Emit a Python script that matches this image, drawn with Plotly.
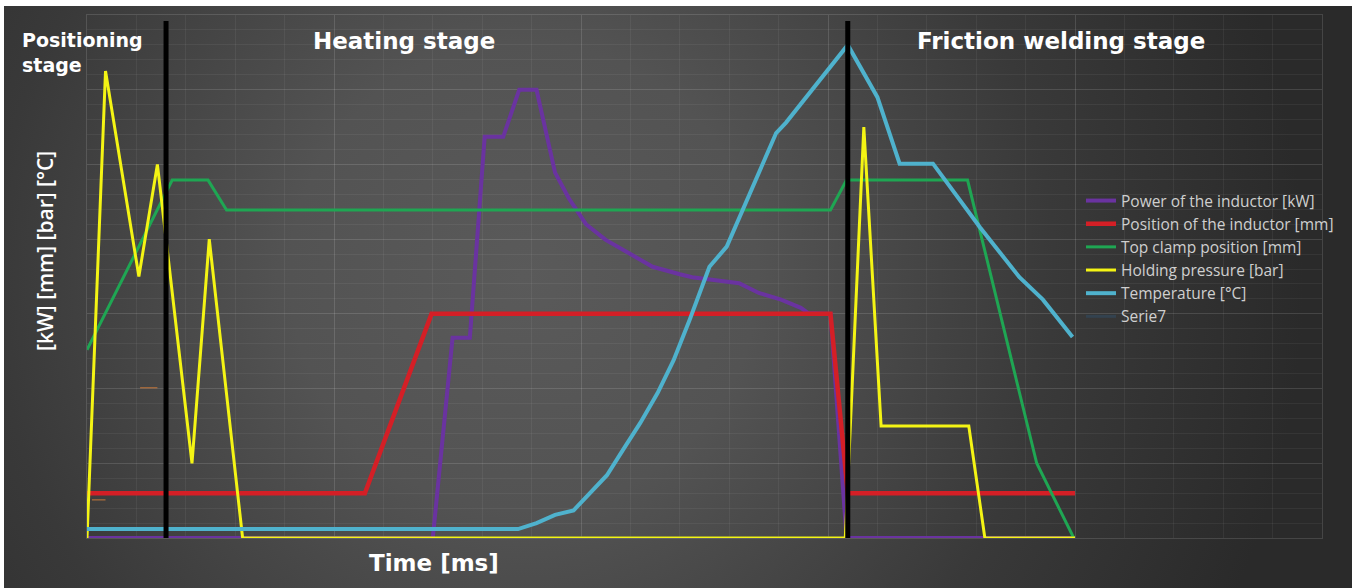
import base64
import plotly.graph_objects as go

# ---- series data (time axis in arbitrary units, values on a shared scale) ----
power_t = [0, 14.0, 14.8, 15.5, 16.1, 16.85, 17.5, 18.2, 18.95, 19.5, 20.2, 21.0, 22.0, 22.9,
           24.0, 24.5, 26.4, 27.2, 28.1, 28.9, 29.2, 30.1, 30.75, 40.0]
power_v = [0, 0, 26.8, 26.8, 53.7, 53.7, 60.0, 60.0, 48.9, 45.5, 42.0, 39.9, 38.0, 36.3,
           35.3, 34.9, 34.1, 32.8, 31.9, 30.8, 30.1, 30.0, 0, 0]

inductor_t = [0, 11.25, 13.95, 30.1, 30.8, 40.0]
inductor_v = [6, 6, 30, 30, 6, 6]

clamp_t = [0, 3.45, 4.9, 5.65, 30.1, 30.75, 35.65, 38.45, 39.95]
clamp_v = [25.2, 47.9, 47.9, 43.9, 43.9, 47.9, 47.9, 10.0, 0]

pressure_t = [0, 0.75, 2.1, 2.85, 4.25, 4.95, 6.3, 30.7, 31.45, 32.15, 35.7, 36.35, 40.0]
pressure_v = [0, 62.5, 35, 50, 10, 40, 0, 0, 55, 15, 15, 0, 0]

temp_t = [0, 17.45, 18.2, 18.95, 19.7, 20.35, 21.05, 21.7, 22.4, 23.1, 23.75, 24.4, 25.2,
          25.9, 27.9, 28.3, 30.8, 32.0, 32.9, 34.25, 36.15, 37.75, 38.7, 39.9]
temp_v = [1.2, 1.2, 2.0, 3.1, 3.7, 5.9, 8.4, 11.8, 15.4, 19.4, 23.8, 29.2, 36.3,
          39.0, 54.2, 55.6, 66.0, 59.0, 50.1, 50.1, 41.6, 34.9, 31.9, 26.9]

serie7_t = [0, 40.0]
serie7_v = [0, 0]

# short orange marker segments near the start
marks_t = [[2.15, 2.85], [0.2, 0.75]]
marks_v = [[20.1, 20.1], [5.1, 5.1]]

# stage boundaries
stage_edges = [3.2, 30.8]
edge_span = [-0.3, 69.2]

series = [
    ("Power of the inductor [kW]", power_t, power_v, "#6a33a0", 4),
    ("Position of the inductor [mm]", inductor_t, inductor_v, "#d41f26", 4.5),
    ("Top clamp position [mm]", clamp_t, clamp_v, "#1fa653", 3),
    ("Holding pressure [bar]", pressure_t, pressure_v, "#f4f414", 3),
    ("Temperature [°C]", temp_t, temp_v, "#4fb2cd", 4),
    ("Serie7", serie7_t, serie7_v, "#33424f", 3),
]

fig = go.Figure()
# Serie7 sits underneath everything along the baseline
draw_order = [5, 0, 1, 2, 3, 4]
for i in draw_order:
    name, t, v, color, w = series[i]
    fig.add_trace(go.Scatter(
        x=t, y=v, name=name, mode="lines",
        line=dict(color=color, width=w),
        legendgroup=f"g{i}", legendrank=i + 1, hoverinfo="skip",
    ))

for t, v in zip(marks_t, marks_v):
    fig.add_trace(go.Scatter(x=t, y=v, mode="lines", showlegend=False,
                             line=dict(color="#c8783a", width=1), hoverinfo="skip"))

for xe in stage_edges:
    fig.add_trace(go.Scatter(x=[xe, xe], y=edge_span, mode="lines", showlegend=False,
                             line=dict(color="#000000", width=5), hoverinfo="skip"))

# radial gradient backdrop for the chart panel
svg = (
    '<svg xmlns="http://www.w3.org/2000/svg" width="1348" height="582" viewBox="0 0 1348 582" '
    'preserveAspectRatio="none">'
    '<defs><radialGradient id="g" gradientUnits="userSpaceOnUse" cx="520" cy="270" r="780">'
    '<stop offset="0" stop-color="#5a5a5a"/>'
    '<stop offset="0.3" stop-color="#535353"/>'
    '<stop offset="0.68" stop-color="#393939"/>'
    '<stop offset="1" stop-color="#2a2a2a"/>'
    '</radialGradient></defs>'
    '<rect width="1348" height="582" fill="url(#g)"/></svg>'
)
bg_src = "data:image/svg+xml;base64," + base64.b64encode(svg.encode()).decode()

L, R, T, B = 87, 1322, 15, 538
PW, PH = R - L, B - T


def px(x):
    return (x - L) / PW


def py(y):
    return (B - y) / PH


fig.add_layout_image(dict(
    source=bg_src, xref="paper", yref="paper",
    x=px(4), y=py(6), sizex=1348 / PW, sizey=582 / PH,
    xanchor="left", yanchor="top", sizing="stretch", layer="below",
))

title_font = dict(family="DejaVu Sans", color="#ffffff", weight="bold")

annotations = [
    dict(text="Positioning<br>stage", x=px(20), y=py(27), xanchor="left", yanchor="top",
         align="left", font=dict(size=19, **title_font)),
    dict(text="Heating stage", x=px(404), y=py(41), xanchor="center", yanchor="middle",
         font=dict(size=23, **title_font)),
    dict(text="Friction welding stage", x=px(1061), y=py(41), xanchor="center", yanchor="middle",
         font=dict(size=23, **title_font)),
    dict(text="Time [ms]", x=px(434), y=py(563), xanchor="center", yanchor="middle",
         font=dict(size=23, **title_font)),
    dict(text="[kW] [mm] [bar] [°C]", x=px(45), y=py(251), xanchor="center", yanchor="middle",
         textangle=-90, font=dict(family="Open Sans", size=21, color="#ffffff", weight=600)),
]
for a in annotations:
    a.update(xref="paper", yref="paper", showarrow=False)

grid_major = "rgba(255,255,255,0.13)"
grid_minor = "rgba(255,255,255,0.055)"
axis_common = dict(
    showticklabels=False, ticks="", zeroline=False,
    showgrid=True, gridcolor=grid_major, gridwidth=1,
    showline=True, linecolor=grid_major, linewidth=1, mirror=True,
)

fig.update_layout(
    width=1360, height=588,
    margin=dict(l=L, r=1360 - R, t=T, b=588 - B),
    paper_bgcolor="#ffffff",
    plot_bgcolor="rgba(0,0,0,0)",
    xaxis=dict(range=[0, 50], dtick=10, minor=dict(dtick=2, showgrid=True, gridcolor=grid_minor),
               **axis_common),
    yaxis=dict(range=[0, 70], dtick=10, minor=dict(dtick=2, showgrid=True, gridcolor=grid_minor),
               **axis_common),
    legend=dict(
        x=px(1081), y=py(184), xanchor="left", yanchor="top",
        bgcolor="rgba(0,0,0,0)", traceorder="grouped", tracegroupgap=0,
        font=dict(family="Open Sans", size=15.5, color="#cfcfcf"),
        itemwidth=30,
    ),
    annotations=annotations,
    showlegend=True,
)

fig.write_html("out.html")
